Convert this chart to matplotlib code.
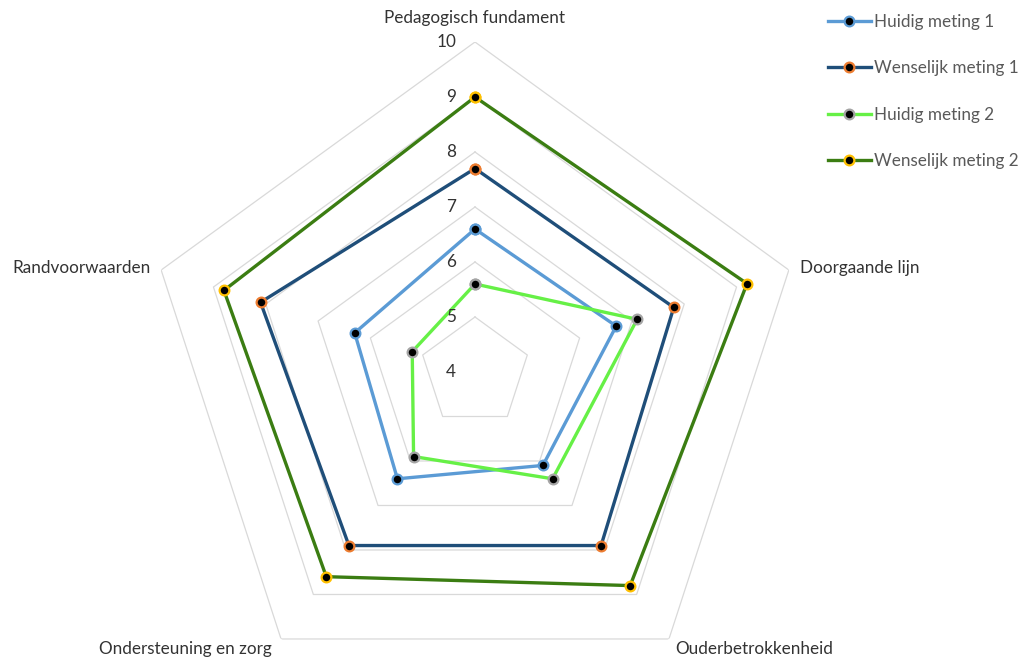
import matplotlib
matplotlib.use('Agg')
import matplotlib.pyplot as plt
import numpy as np

# categorieën en metingen
categories = ['Pedagogisch fundament', 'Doorgaande lijn', 'Ouderbetrokkenheid',
              'Ondersteuning en zorg', 'Randvoorwaarden']
huidig_1 = [6.6, 6.7, 6.1, 6.4, 6.3]
wenselijk_1 = [7.7, 7.8, 7.9, 7.9, 8.1]
huidig_2 = [5.6, 7.1, 6.4, 5.9, 5.2]
wenselijk_2 = [9.0, 9.2, 8.8, 8.6, 8.8]
rings = [4, 5, 6, 7, 8, 9, 10]

plt.rcParams['font.family'] = ['Lato', 'DejaVu Sans']

fig = plt.figure(figsize=(10.26, 6.64), dpi=100)
# as: 330 px straal rond (475, 372)
R = 330
ax = fig.add_axes([(475 - R) / 1026, (664 - 372 - R) / 664, 2 * R / 1026, 2 * R / 664],
                  projection='polar')
ax.set_theta_offset(np.pi / 2)
ax.set_theta_direction(-1)
ax.set_ylim(4, 10)
ax.set_xticks([])
ax.set_yticks([])
ax.grid(False)
ax.spines['polar'].set_visible(False)
ax.patch.set_alpha(0)

n = len(categories)
angles = np.linspace(0, 2 * np.pi, n, endpoint=False)
closed = np.append(angles, angles[0])

# vijfhoekige rasterlijnen
for r in rings[1:]:
    ax.plot(closed, [r] * (n + 1), color='#d9d9d9', lw=0.9, zorder=1)

series = [
    ('Huidig meting 1', huidig_1, '#5b9bd5', '#5b9bd5'),
    ('Wenselijk meting 1', wenselijk_1, '#1f4e79', '#ed7d31'),
    ('Huidig meting 2', huidig_2, '#66f046', '#a5a5a5'),
    ('Wenselijk meting 2', wenselijk_2, '#3b7d12', '#ffc000'),
]
for label, vals, lc, mc in series:
    v = vals + vals[:1]
    ax.plot(closed, v, color=lc, lw=2.4, marker='o', markersize=7,
            markerfacecolor='black', markeredgecolor=mc, markeredgewidth=1.6,
            label=label, zorder=3, clip_on=False)

# waardes langs de bovenste as
for r in rings:
    ax.annotate(str(r), xy=(0, r), xytext=(-19, 0), textcoords='offset pixels',
                ha='right', va='center', fontsize=12.3, color='#333333',
                annotation_clip=False)

# categorielabels
offsets = [((0, 24), 'center'), ((11, 2), 'left'), ((6, -10), 'left'),
           ((-9, -10), 'right'), ((-11, 2), 'right')]
for a, cat, (off, ha) in zip(angles, categories, offsets):
    ax.annotate(cat, xy=(a, 10), xytext=off, textcoords='offset pixels',
                ha=ha, va='center', fontsize=12.3, color='#333333',
                annotation_clip=False)

leg = fig.legend(loc='upper left', bbox_to_anchor=(828 / 1026, 1 - 14 / 664),
                 frameon=False, fontsize=12.3, labelspacing=1.78,
                 handlelength=2.5, handletextpad=0.2, borderpad=0, borderaxespad=0)
for t in leg.get_texts():
    t.set_color('#595959')

fig.savefig('out.png', dpi=100)
